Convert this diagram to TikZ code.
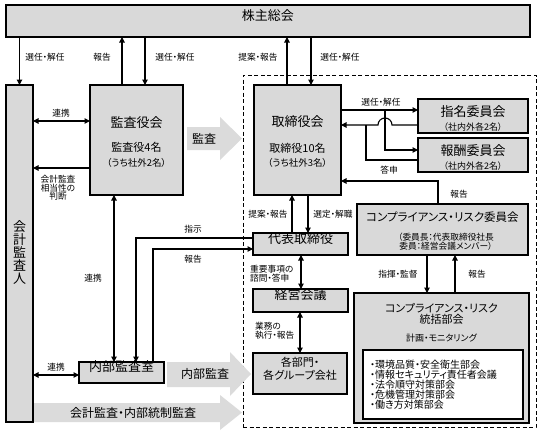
\documentclass[tikz,border=0pt]{standalone}
\usepackage{fontspec}
\setmainfont[RawFeature=+palt]{Noto Sans CJK JP}
\usetikzlibrary{arrows.meta,fit,calc}
\definecolor{boxgray}{gray}{0.85}
\definecolor{arrgray}{gray}{0.86}
\newcommand\fsz[1]{\fontsize{#1}{#1}\selectfont}
\begin{document}
\begin{tikzpicture}[x=1pt,y=-1pt,
  box/.style={draw=black, fill=boxgray, line width=1.1pt, inner sep=0pt, outer sep=0pt},
  wbox/.style={draw=black, fill=white, line width=1.1pt, inner sep=0pt, outer sep=0pt},
  grp/.style={draw=black, dash pattern=on 4pt off 2.5pt, line width=1pt, inner sep=0pt},
  conn/.style={line width=1.1pt},
  arr/.style={conn, -{Triangle[length=5.5pt,width=5.5pt]}},
  darr/.style={conn, {Triangle[length=5.5pt,width=5.5pt]}-{Triangle[length=5.5pt,width=5.5pt]}},
  lbl/.style={font=\fsz{8.7}, inner sep=0pt},
  big/.style={font=\fsz{13}, inner sep=0pt},
  mid/.style={font=\fsz{11}, inner sep=0pt},
  sml/.style={font=\fsz{9.5}, inner sep=0pt},
  garr/.style={fill=arrgray, draw=none}
]
\useasboundingbox (0,0) rectangle (541,437);

% executive group (dashed)
\node[grp, fit={(243,75) (536,427)}] (execgrp) {};

% big grey arrows
\fill[garr] (187,127) -- (220,127) -- (220,117) -- (242,138.5) -- (220,160) -- (220,150) -- (187,150) -- cycle;
\node[font=\fsz{12}, inner sep=0pt] (tkansa) at (204,138.5) {監査};
\fill[garr] (167,362) -- (230,362) -- (230,352) -- (251,374) -- (230,396) -- (230,387) -- (167,387) -- cycle;
\node[font=\fsz{12}, inner sep=0pt] (tnaibu) at (205,374) {内部監査};
\fill[garr] (33,403) -- (220,403) -- (220,395) -- (242,412.5) -- (220,430) -- (220,422) -- (33,422) -- cycle;
\node[font=\fsz{12}, inner sep=0pt] (tkaikei) at (133,412.5) {会計監査・内部統制監査};

% boxes
\node[box, fit={(6,5) (530,37)}, big] (sh) {株主総会};
\node[box, fit={(6,85) (33,422)}] (acc) {};
\node[font=\fsz{13}, align=center, inner sep=0pt] (tacc) at (19.5,253)
  {\fontsize{13}{17.25}\selectfont 会\\計\\監\\査\\人};
\node[box, fit={(90,85) (183,195)}] (kansa) {};
\node[big] (tkansa1) at (136.5,123) {監査役会};
\node[mid] (tkansa2) at (136.5,147) {監査役4名};
\node[sml] (tkansa3) at (136.5,163) {（うち社外2名）};
\node[box, fit={(254,85) (341,195)}] (tori) {};
\node[big] (ttori1) at (297.5,122) {取締役会};
\node[mid] (ttori2) at (297.5,148) {取締役10名};
\node[sml] (ttori3) at (297.5,163) {（うち社外3名）};
\node[box, fit={(418,99) (528,133)}] (shimei) {};
\node[big] (tshimei1) at (473,112) {指名委員会};
\node[font=\fsz{9}, inner sep=0pt] (tshimei2) at (473,127) {（社内外各2名）};
\node[box, fit={(418,138) (528,172)}] (houshu) {};
\node[big] (thoushu1) at (473,151) {報酬委員会};
\node[font=\fsz{9}, inner sep=0pt] (thoushu2) at (473,166) {（社内外各2名）};
\node[box, fit={(357,204) (528,255)}] (crc) {};
\node[font=\fsz{11.5}, inner sep=0pt] (tcrc1) at (442.5,217) {コンプライアンス・リスク委員会};
\node[font=\fsz{8.7}, align=center, inner sep=0pt] (tcrc2) at (446,242)
  {\fontsize{8.7}{10.5}\selectfont （委員長：代表取締役社長\\委員：経営会議メンバー）};
\node[box, fit={(253,233) (348,255)}, big] (daihyo) {代表取締役};
\node[box, fit={(253,289) (348,312)}, big] (keiei) {経営会議};
\node[box, fit={(253,353) (347,394)}, align=center, font=\fontsize{11}{13.5}\selectfont] (kakubu) {各部門・\\各グループ会社};
\node[box, fit={(354,293) (529,423)}] (crt) {};
\node[font=\fsz{11}, align=center, inner sep=0pt] (tcrt1) at (441.5,314)
  {\fontsize{11}{15}\selectfont コンプライアンス・リスク\\統括部会};
\node[lbl, font=\fsz{9}] (tcrt2) at (441.5,338) {計画・モニタリング};
\node[wbox, fit={(363,350) (523,419)}] (list) {};
\node[font=\fsz{10}, align=left, inner sep=0pt, anchor=west] (tlist) at (370,385)
  {\fontsize{10}{11.5}\selectfont ・環境品質・安全衛生部会\\・情報セキュリティ責任者会議\\・法令順守対策部会\\・危機管理対策部会\\・働き方対策部会};
\node[box, fit={(79,362) (164,383)}, big] (naibu) {内部監査室};

% helper coordinates
\foreach \xx in {114,122,136,145,153,287,292,300,301,308,311,427,438,455}
  \coordinate (x\xx) at (\xx,0);
\foreach \yy in {110,121,125,150,160,168,181,238,249,375}
  \coordinate (y\yy) at (0,\yy);
\coordinate (j1) at (385,110);
\coordinate (j2) at (366,125);
\coordinate (hopR) at (392,125);

% connectors: shareholders meeting
\draw[arr] (sh.south -| acc.north) -- (acc.north);
\draw[arr] (kansa.north -| x122) -- (sh.south -| x122);
\draw[arr] (sh.south -| x145) -- (kansa.north -| x145);
\draw[arr] (tori.north -| x287) -- (sh.south -| x287);
\draw[arr] (sh.south -| x311) -- (tori.north -| x311);
\node[lbl] (l1) at (45,57) {選任・解任};
\node[lbl] (l2) at (102,57) {報告};
\node[lbl] (l3) at (175,57) {選任・解任};
\node[lbl] (l4) at (258,57) {提案・報告};
\node[lbl] (l5) at (340,57) {選任・解任};

% auditors
\draw[darr] (acc.east |- y121) -- (kansa.west |- y121);
\node[lbl] (l6) at (61,113) {連携};
\draw[arr] (kansa.west |- y168) -- (acc.east |- y168);
\node[lbl, align=center] (l7) at (58,188) {\fontsize{8.7}{10.5}\selectfont 会計監査\\相当性の\\判断};

% committees
\draw[arr] (tori.east |- y110) -- (shimei.west |- y110);
\node[lbl] (l8) at (381,102) {選任・解任};
\draw[arr] (j1) -- (j1 |- y150) -- (houshu.west |- y150);
\draw[arr] (shimei.west |- y125) -- (hopR) arc[start angle=0, end angle=180, radius=7pt] -- (tori.east |- y125);
\draw[conn] (j2) -- (j2 |- y160) -- (houshu.west |- y160);
\node[lbl] (l9) at (389,170) {答申};
\draw[arr] (crc.north -| x438) -- (x438 |- y181) -- (tori.east |- y181);
\node[lbl] (l10) at (459,194) {報告};

% representative director chain
\draw[arr] (daihyo.north -| x292) -- (tori.south -| x292);
\draw[arr] (tori.south -| x308) -- (daihyo.north -| x308);
\node[lbl] (l11) at (268,214) {提案・報告};
\node[lbl] (l12) at (333,214) {選定・解職};
\draw[darr] (daihyo.south -| x301) -- (keiei.north -| x301);
\node[lbl, align=left, anchor=west] (l13) at (250,273.5) {\fontsize{8.7}{11}\selectfont 重要事項の\\諮問・答申};
\draw[darr] (keiei.south -| x300) -- (kakubu.north -| x300);
\node[lbl, align=left, anchor=west] (l14) at (255,330.5) {\fontsize{8.7}{11}\selectfont 業務の\\執行・報告};

% compliance
\draw[arr] (crc.south -| x427) -- (crt.north -| x427);
\draw[arr] (crt.north -| x455) -- (crc.south -| x455);
\node[lbl] (l15) at (398,274) {指揮・監督};
\node[lbl] (l16) at (477,274) {報告};

% internal audit
\draw[darr] (kansa.south -| x114) -- (naibu.north -| x114);
\node[lbl] (l17) at (93,278) {連携};
\draw[arr] (daihyo.west |- y238) -- (x136 |- y238) -- (naibu.north -| x136);
\node[lbl] (l18) at (193,229) {指示};
\draw[arr] (naibu.north -| x153) -- (x153 |- y249) -- (daihyo.west |- y249);
\node[lbl] (l19) at (193,259) {報告};
\draw[darr] (acc.east |- y375) -- (naibu.west |- y375);
\node[lbl] (l20) at (56,367) {連携};
\end{tikzpicture}
\end{document}
